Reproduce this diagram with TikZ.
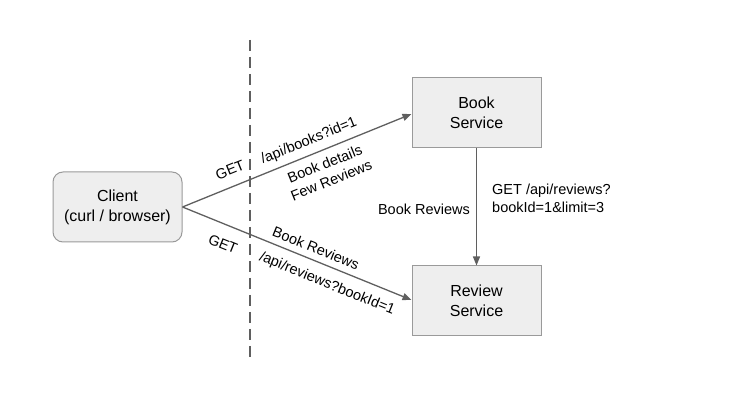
\documentclass[tikz,border=0pt]{standalone}
\usepackage{fontspec}
\setmainfont{Liberation Sans}
\usetikzlibrary{arrows.meta}
\definecolor{boxfill}{HTML}{EEEEEE}
\definecolor{boxline}{HTML}{9A9A9A}
\definecolor{arrowc}{HTML}{5F5F5F}
\begin{document}
\begin{tikzpicture}[x=1pt,y=-1pt,
  box/.style={draw=boxline,fill=boxfill,line width=1pt,minimum width=129pt,minimum height=70pt,align=center,font=\fontsize{16}{20}\selectfont,inner sep=0pt},
  conn/.style={draw=arrowc,line width=1.3pt,-{Triangle[length=9pt,width=7pt]}},
  lbl/.style={font=\fontsize{14.5}{17.5}\selectfont,inner sep=0pt,align=center}]
\useasboundingbox (0,0) rectangle (736,411);
\node[box,rounded corners=10pt] (client) at (117.5,207) {Client\\(curl / browser)};
\node[box] (book) at (476.5,112.5) {Book\\Service};
\node[box] (review) at (476.5,301) {Review\\Service};
\coordinate (dtop) at (250,40);
\coordinate (dbot) at (250,363);
\draw[color=arrowc,line width=2.4pt,dash pattern=on 11pt off 6pt] (dtop) -- (dbot);
\draw[conn] (client.east) -- (book.west |- 0,114);
\draw[conn] (client.east) -- (review.west |- 0,300);
\draw[conn] (book.south) -- (review.north);
\node[lbl,rotate=22] at (230,170) {GET};
\node[lbl,rotate=22] at (309,141) {/api/books?id=1};
\node[lbl,rotate=22] at (328,172) {Book details\\Few Reviews};
\node[lbl,rotate=-22] at (223,244) {GET};
\node[lbl,rotate=-22] at (316,248) {Book Reviews};
\node[lbl,rotate=-22] at (327,284) {/api/reviews?bookId=1};
\node[lbl] at (424,209) {Book Reviews};
\node[lbl,align=left,anchor=west] at (492,198.5) {GET /api/reviews?\\bookId=1\&limit=3};
\end{tikzpicture}
\end{document}
